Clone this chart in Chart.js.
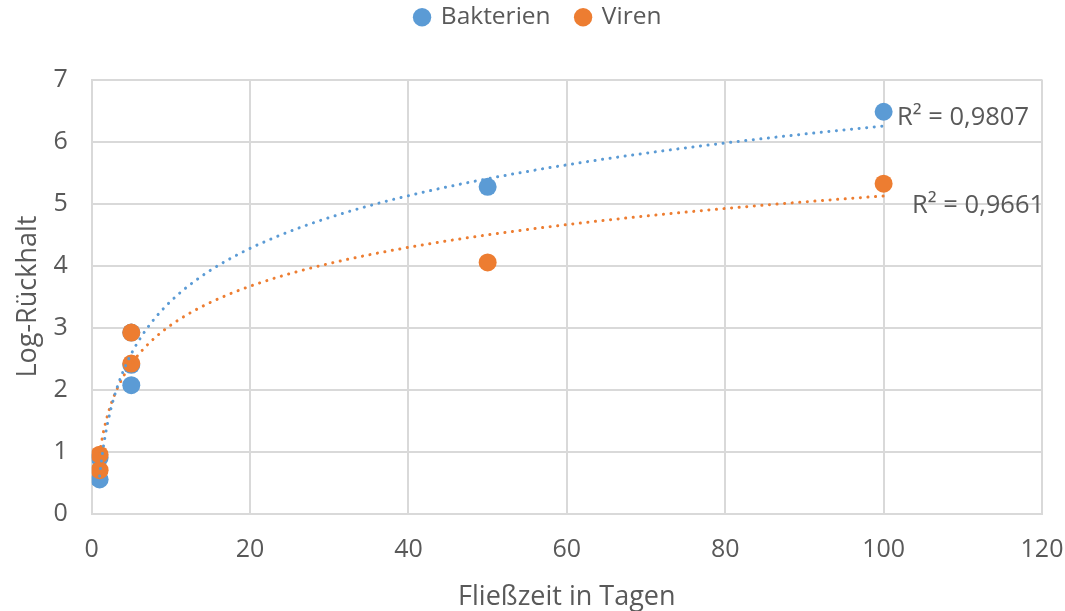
<!DOCTYPE html>
<html><head><meta charset="utf-8">
<script src="https://cdn.jsdelivr.net/npm/chart.js@4"></script>
<style>html,body{margin:0;padding:0;background:#fff}#c{display:block}</style>
</head><body>
<canvas id="c" width="1065" height="611"></canvas>
<script>
const bakterienX = [1, 1, 5, 5, 5, 50, 100];
const bakterienY = [0.55, 0.9, 2.07, 2.4, 2.92, 5.27, 6.48];
const virenX = [1, 1, 5, 5, 50, 100];
const virenY = [0.7, 0.95, 2.42, 2.92, 4.05, 5.32];
const seriesNames = ['Bakterien', 'Viren'];
const r2Labels = ['R² = 0,9807', 'R² = 0,9661'];
const xTicks = [0, 20, 40, 60, 80, 100, 120];
const yTicks = [0, 1, 2, 3, 4, 5, 6, 7];

function logFit(xs, ys) {
  const lx = xs.map(Math.log);
  const n = xs.length;
  const mx = lx.reduce((a, b) => a + b, 0) / n;
  const my = ys.reduce((a, b) => a + b, 0) / n;
  let sxy = 0, sxx = 0;
  for (let i = 0; i < n; i++) { sxy += (lx[i] - mx) * (ys[i] - my); sxx += (lx[i] - mx) ** 2; }
  const a = sxy / sxx, b = my - a * mx;
  return x => a * Math.log(x) + b;
}
function trend(xs, ys) {
  const f = logFit(xs, ys);
  const minX = Math.min(...xs), maxX = Math.max(...xs);
  const pts = [];
  for (let x = minX; x <= maxX + 1e-9; x += (x < 10 ? 0.25 : 1)) pts.push({x: x, y: f(x)});
  return pts;
}
const toPts = (xs, ys) => xs.map((x, i) => ({x: x, y: ys[i]}));

const BLUE = '#5B9BD5', ORANGE = '#ED7D31', TXT = '#595959', GRID = '#D9D9D9';
const FONT = '"Open Sans", "Noto Sans", sans-serif';

const r2Plugin = {
  id: 'r2',
  afterDatasetsDraw(chart) {
    const {ctx, scales: {x, y}} = chart;
    ctx.save();
    ctx.fillStyle = TXT;
    ctx.font = '25.5px ' + FONT;
    ctx.textBaseline = 'middle';
    ctx.textAlign = 'left';
    ctx.fillText(r2Labels[0], x.getPixelForValue(101.7), y.getPixelForValue(6.39));
    ctx.fillText(r2Labels[1], x.getPixelForValue(103.6), y.getPixelForValue(4.97));
    ctx.restore();
  }
};
const legendSpace = {
  id: 'legendSpace',
  beforeInit(chart) {
    const orig = chart.legend.fit;
    chart.legend.fit = function () { orig.call(this); this.height += 40; };
  }
};

new Chart(document.getElementById('c'), {
  type: 'scatter',
  data: {
    datasets: [
      {label: seriesNames[0], data: toPts(bakterienX, bakterienY), backgroundColor: BLUE, borderColor: BLUE,
       pointRadius: 9, pointHoverRadius: 9, pointBorderWidth: 0, order: 3},
      {label: seriesNames[1], data: toPts(virenX, virenY), backgroundColor: ORANGE, borderColor: ORANGE,
       pointRadius: 9, pointHoverRadius: 9, pointBorderWidth: 0, order: 2},
      {label: 'trendB', data: trend(bakterienX, bakterienY), showLine: true, pointRadius: 0, borderColor: BLUE,
       borderWidth: 3, borderDash: [0.1, 7.5], borderCapStyle: 'round', order: 0},
      {label: 'trendV', data: trend(virenX, virenY), showLine: true, pointRadius: 0, borderColor: ORANGE,
       borderWidth: 3, borderDash: [0.1, 7.5], borderCapStyle: 'round', order: 1}
    ]
  },
  options: {
    responsive: false,
    animation: false,
    events: [],
    layout: {padding: {left: 12, right: 0, top: -21, bottom: -3}},
    plugins: {
      tooltip: {enabled: false},
      legend: {
        position: 'top',
        labels: {
          filter: item => item.datasetIndex < 2,
          sort: (a, b) => a.datasetIndex - b.datasetIndex,
          usePointStyle: true, pointStyle: 'circle', boxWidth: 13, boxHeight: 13,
          color: TXT, font: {family: FONT, size: 24.5}, padding: 26
        }
      }
    },
    scales: {
      x: {
        type: 'linear', min: 0, max: 120,
        afterBuildTicks: s => { s.ticks = xTicks.map(v => ({value: v})); },
        afterFit: s => { s.paddingRight = 23; },
        grid: {color: GRID, lineWidth: 2, drawTicks: false},
        border: {color: GRID, width: 2},
        ticks: {color: TXT, font: {family: FONT, size: 25}, padding: 21},
        title: {display: true, text: 'Fließzeit in Tagen', color: TXT, font: {family: FONT, size: 27}, padding: {top: -4, bottom: 0}}
      },
      y: {
        type: 'linear', min: 0, max: 7,
        afterBuildTicks: s => { s.ticks = yTicks.map(v => ({value: v})); },
        grid: {color: GRID, lineWidth: 2, drawTicks: false},
        border: {color: GRID, width: 2},
        ticks: {color: TXT, font: {family: FONT, size: 25}, padding: 24},
        title: {display: true, text: 'Log-Rückhalt', color: TXT, font: {family: FONT, size: 27}, padding: {top: 0, bottom: -15}}
      }
    }
  },
  plugins: [r2Plugin, legendSpace]
});
</script>
</body></html>
